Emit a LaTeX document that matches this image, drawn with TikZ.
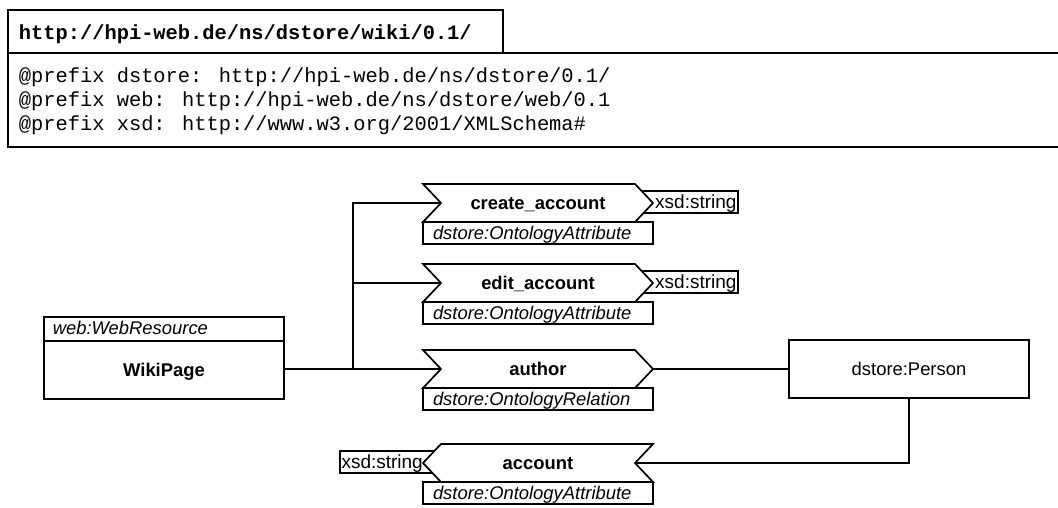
\documentclass[tikz,border=0pt]{standalone}
\usepackage{fontspec}
\setmainfont{Liberation Sans}
\newfontfamily\codefont{Liberation Mono}
\usetikzlibrary{calc}
\newcommand\diagsize{\fontsize{18.4}{22}\selectfont}
\newcommand\rangesize{\fontsize{19}{22}\selectfont}
\newcommand\codesize{\fontsize{20.4}{24}\selectfont}

\tikzset{
  % property shapes: pointing right / pointing left, drawn around a centre point
  rchev/.style={insert path={++(-115,-19) -- ++(212,0) -- ++(18,19) -- ++(-18,19) -- ++(-212,0) -- ++(18,-19) -- cycle}},
  lchev/.style={insert path={++(-115,0) -- ++(18,-19) -- ++(212,0) -- ++(-18,19) -- ++(18,19) -- ++(-212,0) -- cycle}},
  chev/.style={draw, fill=white},
  captext/.style={text height=13.2pt, text depth=0pt},
  lbl/.style={inner sep=0pt, font=\diagsize\bfseries, captext},
  attr/.style={draw, fill=white, font=\diagsize\itshape, text width=210pt, align=left,
    inner xsep=10pt, inner ysep=0pt, minimum height=22pt, captext},
  rangeR/.style={draw, font=\rangesize, text width=93pt, align=right,
    inner xsep=1.5pt, inner ysep=0pt, minimum height=22pt, text height=13.6pt, text depth=0pt},
  rangeL/.style={draw, font=\rangesize, text width=97pt, align=left,
    inner xsep=1.5pt, inner ysep=0pt, minimum height=22pt, text height=13.6pt, text depth=0pt},
  code/.style={anchor=base west, inner sep=0pt, font=\codefont\codesize},
}

\begin{document}
\begin{tikzpicture}[x=1pt, y=-1pt, line width=1.7pt, line join=miter]
\useasboundingbox (0,0) rectangle (1058,507);
\clip (0,0) rectangle (1058,507);

% namespace header
\draw (8,53) -- (8,10) -- (503,10) -- (503,53);
\draw (1070,53) -- (8,53) -- (8,147) -- (1070,147);
\node[code, font=\codefont\codesize\bfseries] (nsTitle) at (18,39) {http://hpi-web.de/ns/dstore/wiki/0.1/};
\node[code] (pfx1) at (18,82) {@prefix dstore: http://hpi-web.de/ns/dstore/0.1/};
\node[code] (pfx2) at (18,106) {@prefix web: http://hpi-web.de/ns/dstore/web/0.1};
\node[code] (pfx3) at (18,130) {@prefix xsd: http://www.w3.org/2001/XMLSchema\#};

% class WikiPage
\node[draw, anchor=north west, minimum width=240pt, minimum height=82pt, inner sep=0pt] (wp) at (43,316) {};
\draw ([yshift=-25pt]wp.north west) -- ([yshift=-25pt]wp.north east);
\node[anchor=base west, inner sep=0pt, font=\diagsize\itshape] (wpType) at (52,334) {web:WebResource};
\node[lbl] (wpName) at (164,369.5) {WikiPage};

% class dstore:Person
\node[draw, minimum width=240pt, minimum height=58pt, inner sep=0pt, font=\diagsize, captext] (person) at (909,369) {dstore:Person};

% property centres and connection points
\coordinate (ca) at (538,203);
\coordinate (ed) at (538,283);
\coordinate (au) at (538,369);
\coordinate (ac) at (538,463);
\coordinate (ca-in) at ($(ca)+(-97,0)$);
\coordinate (ed-in) at ($(ed)+(-97,0)$);
\coordinate (au-in) at ($(au)+(-97,0)$);
\coordinate (au-out) at ($(au)+(115,0)$);
\coordinate (ac-in) at ($(ac)+(97,0)$);
\coordinate (jn) at (353,369);

% connectors
\draw (ca-in) -| (jn);
\draw (ed-in) -- (ed-in -| jn);
\draw (wp.east |- jn) -- (au-in);
\draw (au-out) -- (person.west);
\draw (person.south) |- (ac-in);

% value types
\node[rangeR] (caRange) at (690,202) {xsd:string};
\node[rangeR] (edRange) at (690,282) {xsd:string};
\node[rangeL] (acRange) at (390,462) {xsd:string};

% properties
\draw[chev] (ca) [rchev];
\node[lbl] (caName) at (ca) {create\_account};
\node[attr] (caType) at (538,233) {dstore:OntologyAttribute};

\draw[chev] (ed) [rchev];
\node[lbl] (edName) at (ed) {edit\_account};
\node[attr] (edType) at (538,313) {dstore:OntologyAttribute};

\draw[chev] (au) [rchev];
\node[lbl] (auName) at (au) {author};
\node[attr] (auType) at (538,399) {dstore:OntologyRelation};

\draw[chev] (ac) [lchev];
\node[lbl] (acName) at (ac) {account};
\node[attr] (acType) at (538,493) {dstore:OntologyAttribute};
\end{tikzpicture}
\end{document}
